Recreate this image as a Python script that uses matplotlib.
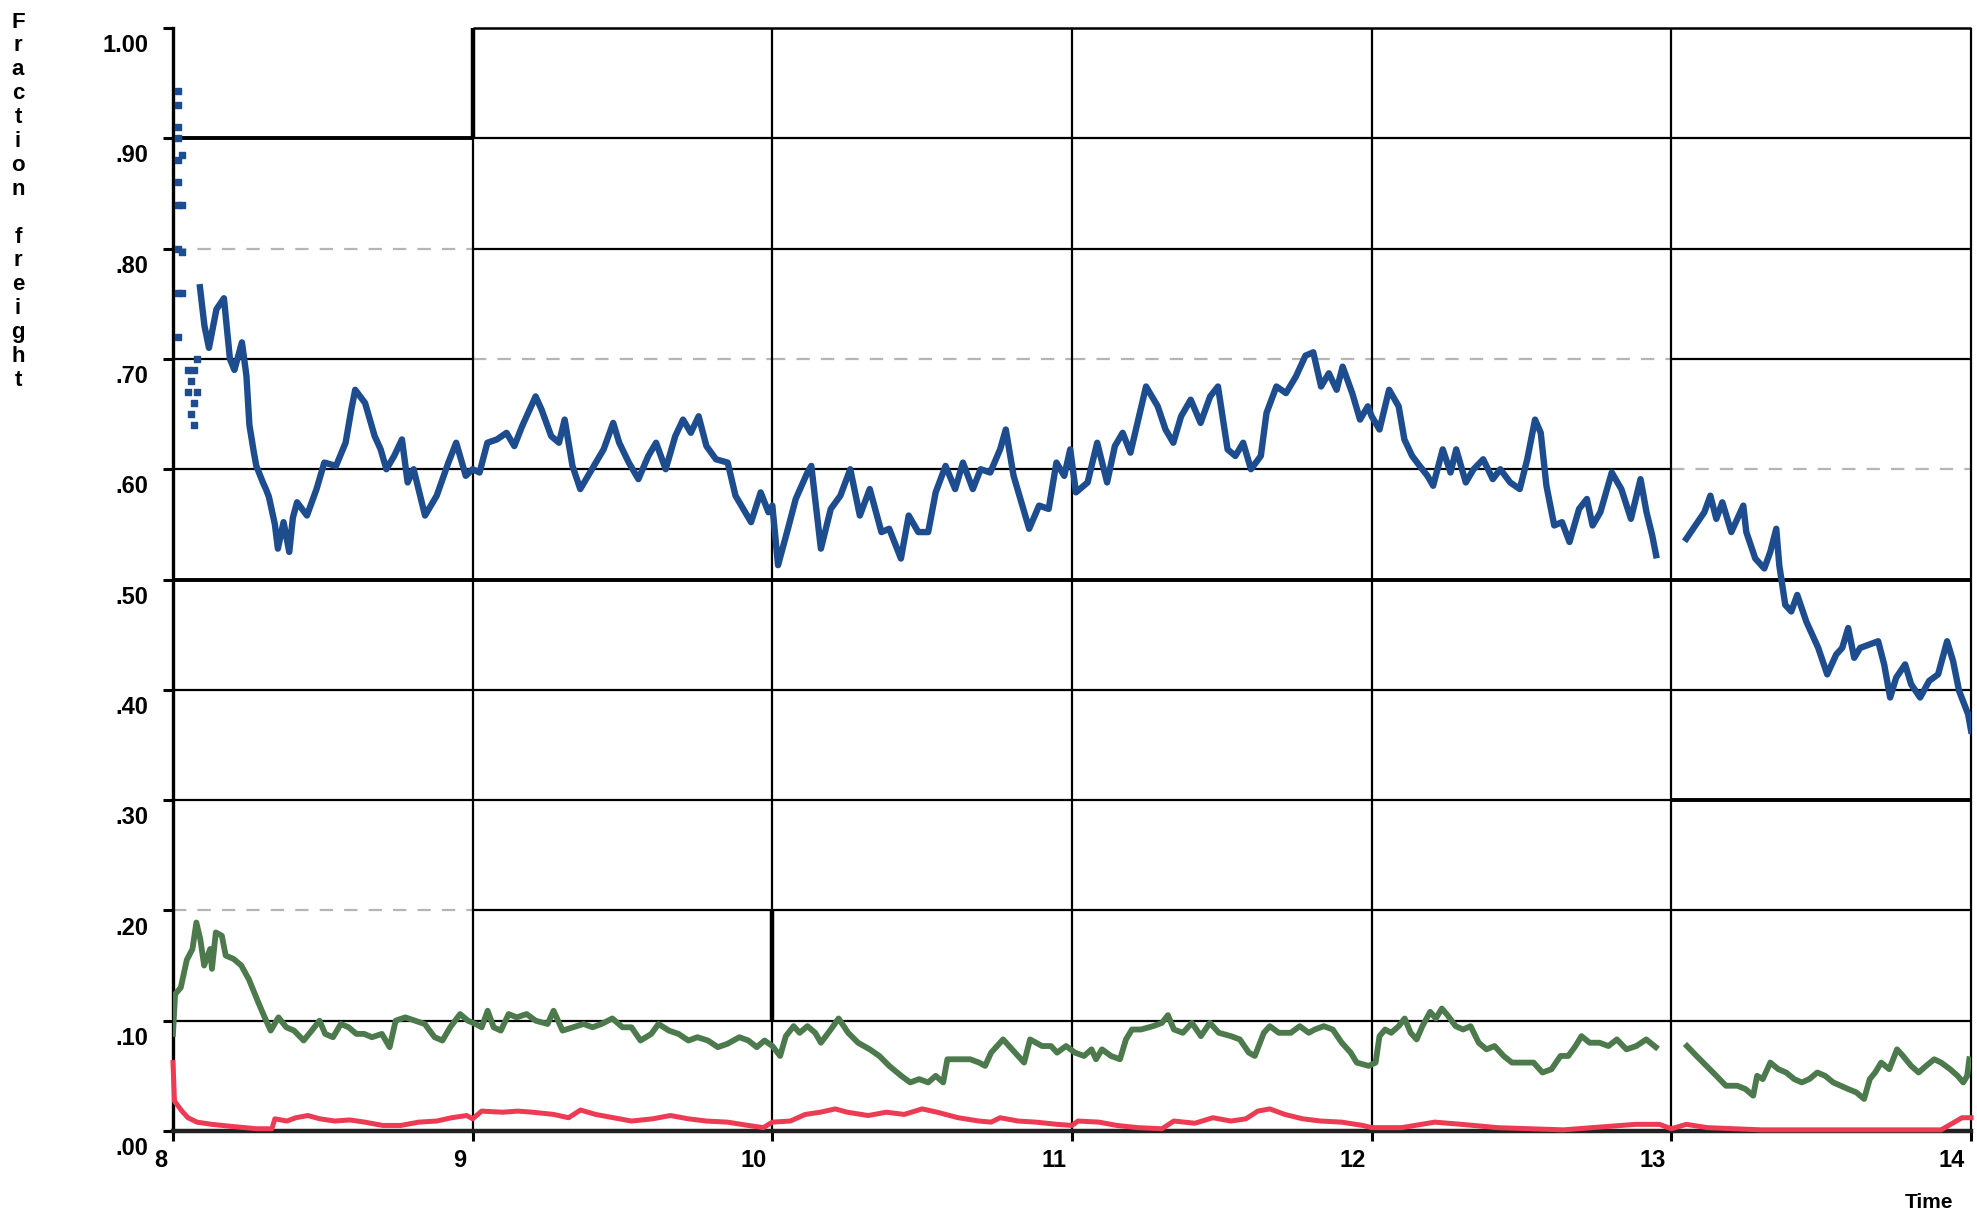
import matplotlib.pyplot as plt

# fraction of freight by time of day (scanned chart)

blue_dot_t = [8.017, 8.017, 8.017, 8.017, 8.017, 8.017, 8.017, 8.017, 8.017, 8.017,
              8.03, 8.03, 8.03, 8.03, 8.05, 8.05, 8.06, 8.06, 8.07, 8.07, 8.07, 8.08, 8.08]
blue_dot_v = [0.943, 0.93, 0.91, 0.90, 0.88, 0.86, 0.84, 0.80, 0.76, 0.72,
              0.885, 0.84, 0.797, 0.76, 0.69, 0.67, 0.65, 0.68, 0.64, 0.66, 0.69, 0.70, 0.67]

blue_t = [8.09, 8.105, 8.12, 8.145, 8.17, 8.19, 8.205, 8.23, 8.245, 8.255, 8.27, 8.278,
          8.30, 8.31, 8.32, 8.34, 8.35, 8.369, 8.388, 8.40, 8.414, 8.447, 8.479, 8.505,
          8.544, 8.576, 8.595, 8.608, 8.641, 8.673, 8.693, 8.712, 8.738, 8.764, 8.783,
          8.803, 8.841, 8.88, 8.919, 8.945, 8.977, 9.0, 9.023, 9.049, 9.081, 9.113,
          9.139, 9.165, 9.21, 9.23, 9.262, 9.288, 9.307, 9.333, 9.359, 9.398, 9.437,
          9.469, 9.489, 9.521, 9.553, 9.586, 9.612, 9.644, 9.676, 9.702, 9.728, 9.754,
          9.78, 9.812, 9.851, 9.877, 9.903, 9.929, 9.961, 9.987,
          10.0, 10.019, 10.052, 10.078, 10.117, 10.13, 10.162, 10.195, 10.227, 10.26,
          10.292, 10.325, 10.364, 10.39, 10.429, 10.455, 10.487, 10.52, 10.545, 10.578,
          10.61, 10.636, 10.669, 10.695, 10.727, 10.76, 10.779, 10.805, 10.857, 10.89,
          10.922, 10.948, 10.974, 10.994, 11.013, 11.052, 11.084, 11.117, 11.143, 11.169,
          11.195, 11.221, 11.247, 11.286, 11.312, 11.338, 11.364, 11.396, 11.429, 11.461,
          11.487, 11.519, 11.545, 11.571, 11.597, 11.63, 11.649, 11.682, 11.714, 11.747,
          11.779, 11.805, 11.831, 11.857, 11.883, 11.903, 11.935, 11.961, 11.987,
          12.0, 12.026, 12.058, 12.09, 12.109, 12.135, 12.16, 12.186, 12.205, 12.237,
          12.263, 12.282, 12.314, 12.34, 12.372, 12.404, 12.429, 12.462, 12.494, 12.519,
          12.545, 12.564, 12.583, 12.609, 12.635, 12.66, 12.692, 12.718, 12.737, 12.763,
          12.782, 12.801, 12.833, 12.865, 12.897, 12.917, 12.936, 12.949,
          13.0,
          13.05, 13.08, 13.11, 13.13, 13.15, 13.17, 13.20, 13.22, 13.24, 13.25, 13.28,
          13.31, 13.33, 13.35, 13.36, 13.38, 13.40, 13.42, 13.45, 13.49, 13.52, 13.55,
          13.57, 13.59, 13.61, 13.63, 13.66, 13.69, 13.71, 13.73, 13.75, 13.78, 13.80,
          13.83, 13.86, 13.89, 13.92, 13.94, 13.96, 13.99, 14.0]
blue_v = [0.765, 0.73, 0.71, 0.745, 0.755, 0.70, 0.69, 0.715, 0.685, 0.64, 0.615, 0.603,
          0.588, 0.582, 0.575, 0.55, 0.528, 0.552, 0.525, 0.556, 0.57, 0.558, 0.582, 0.606,
          0.603, 0.624, 0.654, 0.672, 0.66, 0.63, 0.618, 0.60, 0.612, 0.627, 0.588,
          0.60, 0.558, 0.576, 0.606, 0.624, 0.594, 0.60, 0.597, 0.624, 0.627, 0.633,
          0.621, 0.639, 0.666, 0.654, 0.63, 0.624, 0.645, 0.603, 0.582, 0.60, 0.618,
          0.642, 0.624, 0.606, 0.591, 0.612, 0.624, 0.60, 0.63, 0.645, 0.633, 0.648,
          0.621, 0.609, 0.606, 0.576, 0.564, 0.552, 0.579, 0.561,
          0.567, 0.513, 0.546, 0.573, 0.597, 0.603, 0.528, 0.564, 0.576, 0.60,
          0.558, 0.582, 0.543, 0.546, 0.519, 0.558, 0.543, 0.543, 0.579, 0.603,
          0.582, 0.606, 0.582, 0.60, 0.597, 0.618, 0.636, 0.594, 0.546, 0.567,
          0.564, 0.606, 0.594, 0.618, 0.579, 0.588, 0.624, 0.588, 0.621, 0.633,
          0.615, 0.645, 0.675, 0.657, 0.636, 0.624, 0.648, 0.663, 0.642, 0.666,
          0.675, 0.618, 0.612, 0.624, 0.60, 0.612, 0.651, 0.675, 0.669, 0.684,
          0.703, 0.706, 0.675, 0.687, 0.672, 0.693, 0.669, 0.645, 0.657,
          0.648, 0.636, 0.672, 0.657, 0.627, 0.612, 0.603, 0.594, 0.585, 0.618,
          0.597, 0.618, 0.588, 0.60, 0.609, 0.591, 0.60, 0.588, 0.582, 0.609,
          0.645, 0.633, 0.585, 0.549, 0.552, 0.534, 0.564, 0.573, 0.549, 0.561,
          0.579, 0.597, 0.582, 0.555, 0.591, 0.561, 0.540, 0.522,
          None,
          0.537, 0.549, 0.561, 0.576, 0.555, 0.570, 0.543, 0.555, 0.567, 0.543, 0.519,
          0.510, 0.525, 0.546, 0.513, 0.477, 0.471, 0.486, 0.462, 0.438, 0.414, 0.432,
          0.438, 0.456, 0.429, 0.438, 0.441, 0.444, 0.423, 0.393, 0.411, 0.423, 0.405,
          0.393, 0.408, 0.414, 0.444, 0.426, 0.399, 0.378, 0.363]

green_t = [8.0, 8.007, 8.026, 8.046, 8.065, 8.078, 8.091, 8.104, 8.124, 8.13, 8.143,
           8.163, 8.176, 8.202, 8.228, 8.254, 8.287, 8.306, 8.326, 8.352, 8.378, 8.404,
           8.436, 8.463, 8.489, 8.508, 8.534, 8.56, 8.586, 8.612, 8.638, 8.664, 8.697,
           8.723, 8.743, 8.775, 8.808, 8.84, 8.873, 8.899, 8.925, 8.958, 8.984, 9.01,
           9.03, 9.05, 9.07, 9.094, 9.12, 9.147, 9.18, 9.21, 9.25, 9.27, 9.30, 9.335,
           9.37, 9.40, 9.43, 9.466, 9.50, 9.53, 9.56, 9.596, 9.62, 9.655, 9.687, 9.72,
           9.75, 9.785, 9.818, 9.85, 9.89, 9.92, 9.948, 9.974,
           10.0, 10.026, 10.045, 10.071, 10.091, 10.117, 10.143, 10.162, 10.195, 10.221,
           10.253, 10.286, 10.325, 10.357, 10.39, 10.43, 10.46, 10.49, 10.52, 10.545,
           10.57, 10.584, 10.62, 10.66, 10.69, 10.71, 10.73, 10.77, 10.79, 10.82, 10.84,
           10.86, 10.90, 10.93, 10.95, 10.98, 11.01, 11.04, 11.065, 11.08, 11.10, 11.13,
           11.16, 11.18, 11.20, 11.23, 11.27, 11.30, 11.32, 11.34, 11.37, 11.40, 11.43,
           11.46, 11.49, 11.53, 11.56, 11.59, 11.61, 11.64, 11.66, 11.69, 11.73, 11.76,
           11.79, 11.81, 11.84, 11.87, 11.90, 11.93, 11.95, 11.99,
           12.013, 12.026, 12.045, 12.065, 12.09, 12.11, 12.13, 12.15, 12.169, 12.195,
           12.214, 12.234, 12.253, 12.28, 12.305, 12.33, 12.357, 12.383, 12.41, 12.44,
           12.468, 12.5, 12.54, 12.57, 12.6, 12.63, 12.656, 12.68, 12.70, 12.727, 12.76,
           12.79, 12.818, 12.85, 12.883, 12.916, 12.948,
           13.0,
           13.052, 13.084, 13.117, 13.15, 13.182, 13.22, 13.247, 13.273, 13.286, 13.305,
           13.33, 13.357, 13.383, 13.41, 13.435, 13.46, 13.487, 13.513, 13.54, 13.565,
           13.59, 13.617, 13.643, 13.662, 13.68, 13.70, 13.727, 13.753, 13.773, 13.8,
           13.825, 13.85, 13.877, 13.9, 13.93, 13.955, 13.974, 13.987, 13.994]
green_v = [0.088, 0.124, 0.13, 0.155, 0.165, 0.189, 0.174, 0.15, 0.165, 0.147, 0.18,
           0.177, 0.159, 0.156, 0.15, 0.137, 0.115, 0.103, 0.091, 0.103, 0.094, 0.091,
           0.082, 0.091, 0.10, 0.088, 0.085, 0.097, 0.094, 0.088, 0.088, 0.085, 0.088,
           0.076, 0.10, 0.103, 0.10, 0.097, 0.085, 0.082, 0.094, 0.106, 0.10, 0.097,
           0.094, 0.109, 0.094, 0.091, 0.106, 0.103, 0.106, 0.10, 0.097, 0.109, 0.091, 0.094,
           0.097, 0.094, 0.097, 0.102, 0.094, 0.094, 0.082, 0.088, 0.097, 0.091, 0.088, 0.082,
           0.085, 0.082, 0.076, 0.079, 0.085, 0.082, 0.076, 0.082,
           0.077, 0.068, 0.086, 0.095, 0.089, 0.095, 0.089, 0.080, 0.092, 0.102,
           0.089, 0.080, 0.074, 0.068, 0.059, 0.05, 0.044, 0.047, 0.044, 0.05,
           0.044, 0.065, 0.065, 0.065, 0.062, 0.059, 0.071, 0.083, 0.077, 0.068, 0.062,
           0.083, 0.077, 0.077, 0.071, 0.077, 0.071, 0.068, 0.074, 0.065, 0.074, 0.068,
           0.065, 0.083, 0.092, 0.092, 0.095, 0.098, 0.105, 0.092, 0.089, 0.098, 0.086,
           0.098, 0.089, 0.086, 0.083, 0.071, 0.068, 0.089, 0.095, 0.089, 0.089, 0.095,
           0.089, 0.092, 0.095, 0.092, 0.080, 0.071, 0.062, 0.059,
           0.062, 0.086, 0.092, 0.089, 0.095, 0.102, 0.089, 0.083, 0.095, 0.108,
           0.102, 0.111, 0.105, 0.095, 0.092, 0.095, 0.080, 0.074, 0.077, 0.068,
           0.062, 0.062, 0.062, 0.053, 0.056, 0.068, 0.068, 0.077, 0.086, 0.080, 0.080,
           0.077, 0.083, 0.074, 0.077, 0.083, 0.076,
           None,
           0.077, 0.068, 0.059, 0.05, 0.041, 0.041, 0.038, 0.032, 0.05, 0.047,
           0.062, 0.056, 0.053, 0.047, 0.044, 0.047, 0.053, 0.050, 0.044, 0.041,
           0.038, 0.035, 0.029, 0.047, 0.053, 0.062, 0.056, 0.074, 0.068, 0.059,
           0.053, 0.059, 0.065, 0.062, 0.056, 0.050, 0.044, 0.050, 0.065]

red_t = [8.0, 8.005, 8.03, 8.05, 8.08, 8.13, 8.2, 8.28, 8.33, 8.34, 8.38, 8.41, 8.45,
         8.49, 8.54, 8.59, 8.64, 8.7, 8.76, 8.82, 8.88, 8.93, 8.98, 9.0, 9.03, 9.1,
         9.15, 9.2, 9.27, 9.32, 9.36, 9.41, 9.47, 9.53, 9.6, 9.66, 9.72, 9.78, 9.85,
         9.92, 9.97, 10.0, 10.06, 10.11, 10.16, 10.21, 10.25, 10.32, 10.38, 10.44, 10.5,
         10.55, 10.62, 10.69, 10.73, 10.76, 10.82, 10.88, 10.95, 11.0, 11.02, 11.09,
         11.15, 11.22, 11.3, 11.34, 11.41, 11.47, 11.53, 11.58, 11.62, 11.66, 11.71,
         11.77, 11.83, 11.9, 11.97, 12.0, 12.1, 12.21, 12.3, 12.42, 12.64, 12.88, 12.96,
         13.0, 13.05, 13.12, 13.3, 13.9, 13.97, 14.0]
red_v = [0.062, 0.027, 0.018, 0.012, 0.008, 0.006, 0.004, 0.002, 0.002, 0.011, 0.009,
         0.012, 0.014, 0.011, 0.009, 0.010, 0.008, 0.005, 0.005, 0.008, 0.009, 0.012,
         0.014, 0.011, 0.018, 0.017, 0.018, 0.017, 0.015, 0.012, 0.019, 0.015, 0.012,
         0.009, 0.011, 0.014, 0.011, 0.009, 0.008, 0.005, 0.003, 0.008, 0.009, 0.015,
         0.017, 0.020, 0.017, 0.014, 0.017, 0.015, 0.020, 0.017, 0.012, 0.009, 0.008,
         0.012, 0.009, 0.008, 0.006, 0.005, 0.009, 0.008, 0.005, 0.003, 0.002, 0.009,
         0.007, 0.012, 0.009, 0.011, 0.018, 0.020, 0.015, 0.011, 0.009, 0.008, 0.005,
         0.003, 0.003, 0.008, 0.006, 0.003, 0.001, 0.006, 0.006, 0.002, 0.006, 0.003,
         0.001, 0.001, 0.012, 0.012]

y_ticks = [0.0, 0.1, 0.2, 0.3, 0.4, 0.5, 0.6, 0.7, 0.8, 0.9, 1.0]
y_labels = ['.00', '.10', '.20', '.30', '.40', '.50', '.60', '.70', '.80', '.90', '1.00']
x_ticks = [8, 9, 10, 11, 12, 13, 14]
x_labels = ['8', '9', '10', '11', '12', '13', '14']
y_title = 'Fraction freight'
x_title = 'Time'

blue = '#1d4d8f'
green = '#4c7a4d'
red = '#ec3b52'
fnt = ['Liberation Sans Narrow', 'Liberation Sans', 'DejaVu Sans']

fig = plt.figure(figsize=(19.77, 12.14), dpi=100)
ax = fig.add_axes([0.0875, 0.0684, 0.9095, 0.9085])
ax.set_xlim(8, 14)
ax.set_ylim(0, 1.0)


def in_ranges(ranges, v, x0):
    for rv, r0, r1 in ranges:
        if rv == v and r0 <= x0 and x0 + 1 <= r1:
            return True
    return False


# grid drawn by hand: some pieces are faint or thick like the scan
faint = [(0.8, 8, 9), (0.7, 9, 13), (0.6, 13, 14), (0.2, 8, 9)]
thick = [(0.9, 8, 9), (0.5, 8, 14), (0.3, 13, 14)]
for v in y_ticks[1:]:
    if v == 1.0:
        ax.hlines(v, 9, 14, color='black', lw=1.8, clip_on=False)
        continue
    for x0 in x_ticks[:-1]:
        if in_ranges(faint, v, x0):
            ax.hlines(v, x0, x0 + 1, color='#b5b5b5', lw=1.6, linestyles=(0, (6, 5)))
        elif in_ranges(thick, v, x0):
            ax.hlines(v, x0, x0 + 1, color='black', lw=2.8)
        else:
            ax.hlines(v, x0, x0 + 1, color='black', lw=1.6)
for x in x_ticks[1:]:
    ax.vlines(x, 0, 1.0, color='black', lw=1.6, clip_on=False)
ax.vlines(9, 0.9, 1.0, color='black', lw=3.2)
ax.vlines(10, 0.1, 0.2, color='black', lw=3.2)

ax.plot(green_t, green_v, color=green, lw=4.2, zorder=3)
ax.plot(red_t, red_v, color=red, lw=3.6, zorder=4, clip_on=False)
ax.plot(blue_t, blue_v, color=blue, lw=4.6, zorder=5)
ax.scatter(blue_dot_t, blue_dot_v, color=blue, marker='s', s=16, zorder=5)

for s in ['top', 'right']:
    ax.spines[s].set_visible(False)
ax.spines['left'].set_linewidth(2.4)
ax.spines['bottom'].set_linewidth(3.2)
ax.spines['bottom'].set_color('#222222')

ax.set_xticks(x_ticks)
ax.set_yticks(y_ticks)
ax.set_xticklabels([])
ax.set_yticklabels([])
ax.tick_params(axis='both', direction='out', length=7, width=2.2, color='black')

for v, lab in zip(y_ticks, y_labels):
    ax.text(-0.0135, v - 0.016, lab, transform=ax.get_yaxis_transform(),
            ha='right', va='center', fontsize=17, fontweight='bold', family=fnt)
for x, lab in zip(x_ticks, x_labels):
    ax.text(x - 0.02, -0.027, lab, transform=ax.get_xaxis_transform(),
            ha='right', va='center', fontsize=17, fontweight='bold', family=fnt)

fig.text(1929 / 1977, 1 - 1203 / 1214, x_title, ha='center', va='center',
         fontsize=15, fontweight='bold', family=fnt)

# vertical title, one letter per line
row = 0
for ch in y_title:
    if ch != ' ':
        fig.text(18 / 1977, 1 - (22 + row * 23.9) / 1214, ch, ha='center', va='center',
                 fontsize=16, fontweight='bold', family=fnt)
    row += 1

plt.savefig('out.png', dpi=100, facecolor='white')
